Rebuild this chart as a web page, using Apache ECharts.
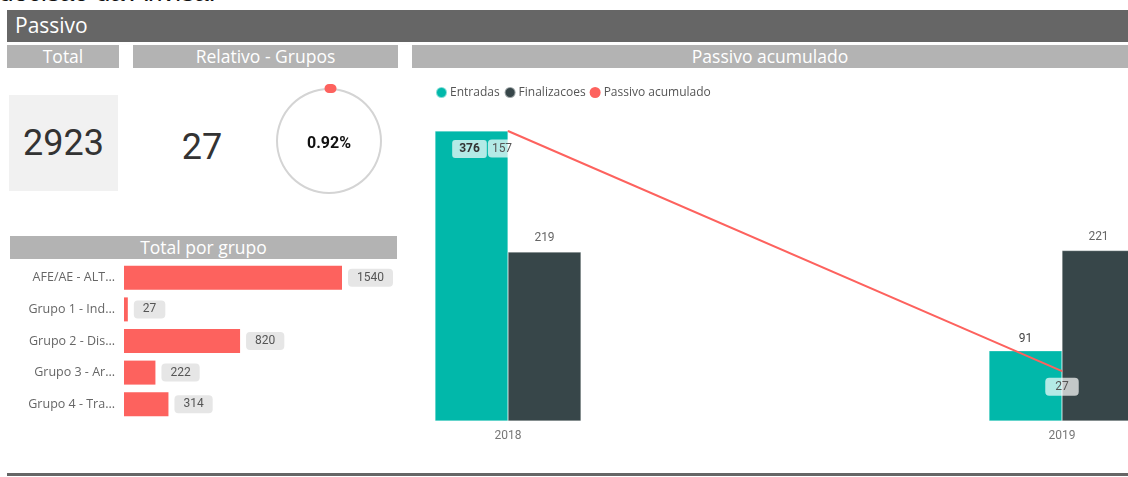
<!DOCTYPE html>
<html>
<head>
<meta charset="utf-8">
<script src="https://cdn.jsdelivr.net/npm/echarts@6/dist/echarts.min.js"></script>
<style>
	html, body { margin: 0; padding: 0; background: #fff; }
	#page { position: relative; width: 1128px; height: 477px; overflow: hidden; font-family: "Open Sans", sans-serif; }
	.box { position: absolute; }
	.cutTitle { left: -1px; top: -23px; height: 30px; line-height: 30px; overflow: visible; font-family: "Liberation Sans", Arial, sans-serif; font-size: 26px; color: #111; white-space: nowrap; }
	.mainHead { left: 7px; top: 10px; width: 1121px; height: 32px; background: #666666; color: #fff; font-size: 21px; line-height: 30px; padding-left: 8px; box-sizing: border-box; }
	.subHead { height: 23px; background: #b3b3b3; color: #fff; font-size: 17.5px; line-height: 23px; text-align: center; }
	.kpiCard { left: 9px; top: 95px; width: 109px; height: 96px; background: #f1f1f1; }
	.kpi { font-family: Roboto, sans-serif; font-size: 36px; color: #333; text-align: center; line-height: 96px; }
	.rule { left: 7px; top: 473px; width: 1121px; height: 3px; background: #666; }
	#chart { position: absolute; left: 0; top: 0; width: 1128px; height: 477px; }
</style>
</head>
<body>
<div id="page">
	<div class="box cutTitle">decisão da Anvisa.</div>
	<div class="box mainHead">Passivo</div>
	<div class="box subHead" style="left:7px;top:45px;width:112px;">Total</div>
	<div class="box subHead" style="left:133px;top:45px;width:265px;">Relativo - Grupos</div>
	<div class="box subHead" style="left:412px;top:45px;width:716px;">Passivo acumulado</div>
	<div class="box subHead" style="left:10px;top:236px;width:387px;">Total por grupo</div>
	<div class="box kpiCard kpi" id="kpiTotal"></div>
	<div class="box kpi" id="kpiGrupo" style="left:152px;top:99px;width:100px;height:96px;"></div>
	<div class="box rule"></div>
	<div id="chart"></div>
</div>
<script>
// cartoes
var totalPassivo = [2923];
var grupoSelecionado = [27];
var relativoPct = [0.92];

// total por grupo
var groupNames = ['AFE/AE - ALT...', 'Grupo 1 - Ind...', 'Grupo 2 - Dis...', 'Grupo 3 - Ar...', 'Grupo 4 - Tra...'];
var groupTotals = [1540, 27, 820, 222, 314];

// passivo acumulado
var years = ['2018', '2019'];
var entradas = [376, 91];
var finalizacoes = [219, 221];
var passivoAcumulado = [157, 27];

document.getElementById('kpiTotal').innerHTML = totalPassivo[0];
document.getElementById('kpiGrupo').innerHTML = grupoSelecionado[0];

var labelFont = 'Roboto, sans-serif';
var chart = echarts.init(document.getElementById('chart'));

var option = {
	animation: false,
	legend: {
		left: 430,
		top: 81,
		icon: 'circle',
		itemWidth: 11,
		itemHeight: 11,
		itemGap: 4,
		textStyle: { color: '#555', fontSize: 12, fontFamily: 'Open Sans', padding: [0, 0, 0, -2] },
		data: ['Entradas', 'Finalizacoes', 'Passivo acumulado']
	},
	grid: [
		//total por grupo
		{ left: 124, top: 262, width: 218, height: 158 },
		//passivo acumulado
		{ left: 508, right: 66, top: 131, bottom: 56 }
	],
	xAxis: [
		{ gridIndex: 0, type: 'value', min: 0, max: 'dataMax', show: false },
		{
			gridIndex: 1, type: 'category', data: years, boundaryGap: false,
			axisLine: { show: false }, axisTick: { show: false },
			axisLabel: { color: '#777', fontSize: 12, fontFamily: labelFont, margin: 9 }
		}
	],
	yAxis: [
		{
			gridIndex: 0, type: 'category', data: groupNames, inverse: true,
			axisLine: { show: false }, axisTick: { show: false },
			axisLabel: { color: '#666', fontSize: 12.5, fontFamily: 'Open Sans', margin: 9 }
		},
		{ gridIndex: 1, type: 'value', min: 0, max: 'dataMax', show: false, splitLine: { show: false } },
		{ gridIndex: 1, type: 'value', min: 0, max: 'dataMax', show: false, splitLine: { show: false } }
	],
	series: [
		{
			name: 'Total por grupo',
			type: 'bar',
			xAxisIndex: 0,
			yAxisIndex: 0,
			barWidth: 24,
			itemStyle: { color: '#fd625e' },
			label: {
				show: true,
				position: 'right',
				distance: 6,
				color: '#555',
				fontSize: 12,
				fontFamily: labelFont,
				backgroundColor: '#e6e6e6',
				borderRadius: 4,
				padding: [3, 9, 3, 9]
			},
			data: groupTotals
		},
		{
			name: 'Entradas',
			type: 'bar',
			xAxisIndex: 1,
			yAxisIndex: 1,
			barWidth: 73,
			barGap: '0%',
			clip: false,
			itemStyle: { color: '#01b8aa', borderColor: 'rgba(255,255,255,0.5)', borderWidth: 0.5 },
			label: { show: true, position: 'top', distance: 6, color: '#444', fontSize: 12, fontFamily: labelFont },
			data: entradas.map(function (v, i) {
				//barra mais alta: rotulo dentro da barra
				if (i === 0) {
					return {
						value: v,
						label: {
							position: 'insideTop', distance: 9, color: '#333', fontWeight: 'bold',
							backgroundColor: 'rgba(255,255,255,0.7)', borderRadius: 3, padding: [3, 7, 3, 7],
							offset: [-2, 0]
						}
					};
				}
				return v;
			})
		},
		{
			name: 'Finalizacoes',
			type: 'bar',
			xAxisIndex: 1,
			yAxisIndex: 1,
			barWidth: 73,
			barGap: '0%',
			clip: false,
			itemStyle: { color: '#374649', borderColor: 'rgba(255,255,255,0.5)', borderWidth: 0.5 },
			label: { show: true, position: 'top', distance: 8, color: '#666', fontSize: 12, fontFamily: labelFont },
			data: finalizacoes
		},
		{
			name: 'Passivo acumulado',
			type: 'line',
			xAxisIndex: 1,
			yAxisIndex: 2,
			symbol: 'circle',
			symbolSize: 1,
			lineStyle: { color: '#fd625e', width: 2 },
			itemStyle: { color: '#fd625e' },
			label: {
				show: true, position: 'bottom', distance: 6, color: '#555', fontSize: 12, fontFamily: labelFont,
				backgroundColor: 'rgba(255,255,255,0.7)', borderRadius: 4, padding: [3, 10, 3, 10]
			},
			data: passivoAcumulado.map(function (v, i) {
				if (i === 0) {
					return { value: v, label: { offset: [-6, 2], padding: [3, 4, 3, 4] } };
				}
				return v;
			})
		},
		//anel relativo
		{
			type: 'gauge',
			center: [329, 141],
			radius: 53,
			startAngle: 90,
			endAngle: -270,
			min: 0,
			max: 100,
			axisLine: { lineStyle: { width: 2, color: [[1, '#d4d4d4']] } },
			pointer: { show: false },
			axisTick: { show: false },
			splitLine: { show: false },
			axisLabel: { show: false },
			title: { show: false },
			detail: {
				offsetCenter: [0, 3],
				color: '#111',
				fontSize: 16,
				fontWeight: 'bold',
				fontFamily: 'Roboto, sans-serif',
				formatter: function (v) { return v.toFixed(2) + '%'; }
			},
			data: relativoPct
		},
		{
			type: 'gauge',
			center: [329, 141],
			radius: 57,
			startAngle: 90,
			endAngle: -270,
			min: 0,
			max: 100,
			axisLine: { show: false },
			progress: { show: true, width: 9, roundCap: true, itemStyle: { color: '#fd625e' } },
			pointer: { show: false },
			axisTick: { show: false },
			splitLine: { show: false },
			axisLabel: { show: false },
			title: { show: false },
			detail: { show: false },
			data: relativoPct
		}
	]
};
chart.setOption(option);
</script>
</body>
</html>
